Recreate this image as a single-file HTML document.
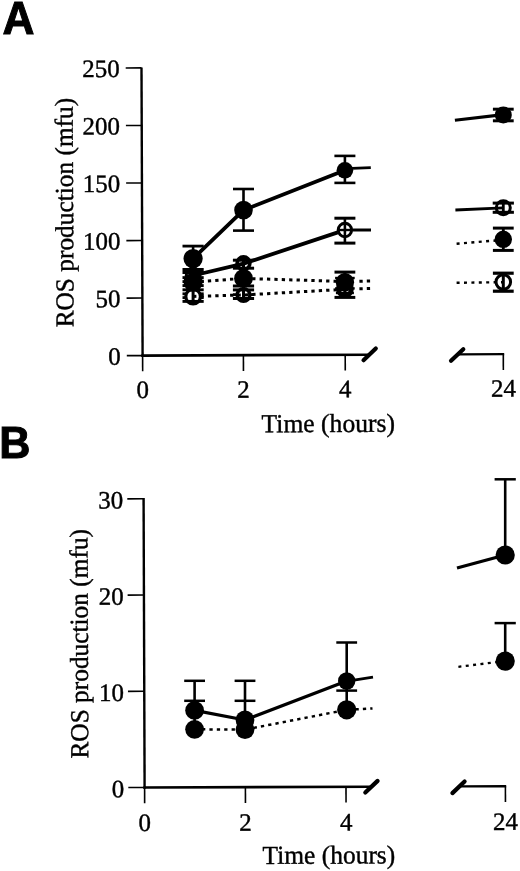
<!DOCTYPE html>
<html><head><meta charset="utf-8"><title>ROS production</title>
<style>html,body{margin:0;padding:0;background:#fff}svg{display:block}</style></head>
<body><svg width="520" height="871" viewBox="0 0 520 871">
<rect width="520" height="871" fill="#fff"/>
<g transform="rotate(-0.22 142.6 355.6)">
<line x1="142.60" y1="67.40" x2="142.60" y2="356.80" stroke="#000" stroke-width="2.4" />
<line x1="141.40" y1="355.60" x2="368.00" y2="355.60" stroke="#000" stroke-width="2.6" />
<line x1="458.00" y1="355.60" x2="504.20" y2="355.60" stroke="#000" stroke-width="2.3" />
<line x1="363.50" y1="361.00" x2="375.80" y2="349.40" stroke="#000" stroke-width="4.2" stroke-linecap="round"/>
<line x1="451.00" y1="362.00" x2="463.30" y2="350.40" stroke="#000" stroke-width="4.2" stroke-linecap="round"/>
<line x1="126.80" y1="355.60" x2="142.60" y2="355.60" stroke="#000" stroke-width="1.6" />
<text transform="translate(120.80,364.50) scale(1.0,1)" font-size="25" text-anchor="end" font-family="Liberation Serif, serif" stroke="#000" stroke-width="0.4" >0</text>
<line x1="126.80" y1="298.06" x2="142.60" y2="298.06" stroke="#000" stroke-width="1.6" />
<text transform="translate(120.80,306.96) scale(1.0,1)" font-size="25" text-anchor="end" font-family="Liberation Serif, serif" stroke="#000" stroke-width="0.4" >50</text>
<line x1="126.80" y1="240.52" x2="142.60" y2="240.52" stroke="#000" stroke-width="1.6" />
<text transform="translate(120.80,249.42) scale(1.0,1)" font-size="25" text-anchor="end" font-family="Liberation Serif, serif" stroke="#000" stroke-width="0.4" >100</text>
<line x1="126.80" y1="182.98" x2="142.60" y2="182.98" stroke="#000" stroke-width="1.6" />
<text transform="translate(120.80,191.88) scale(1.0,1)" font-size="25" text-anchor="end" font-family="Liberation Serif, serif" stroke="#000" stroke-width="0.4" >150</text>
<line x1="126.80" y1="125.44" x2="142.60" y2="125.44" stroke="#000" stroke-width="1.6" />
<text transform="translate(120.80,134.34) scale(1.0,1)" font-size="25" text-anchor="end" font-family="Liberation Serif, serif" stroke="#000" stroke-width="0.4" >200</text>
<line x1="126.80" y1="67.90" x2="142.60" y2="67.90" stroke="#000" stroke-width="1.6" />
<text transform="translate(120.80,76.80) scale(1.0,1)" font-size="25" text-anchor="end" font-family="Liberation Serif, serif" stroke="#000" stroke-width="0.4" >250</text>
<line x1="142.60" y1="355.60" x2="142.60" y2="371.30" stroke="#000" stroke-width="1.6" />
<text transform="translate(142.60,398.00) scale(1.0,1)" font-size="25" text-anchor="middle" font-family="Liberation Serif, serif" stroke="#000" stroke-width="0.4" >0</text>
<line x1="243.40" y1="355.60" x2="243.40" y2="371.30" stroke="#000" stroke-width="1.6" />
<text transform="translate(243.40,398.00) scale(1.0,1)" font-size="25" text-anchor="middle" font-family="Liberation Serif, serif" stroke="#000" stroke-width="0.4" >2</text>
<line x1="345.20" y1="355.60" x2="345.20" y2="371.30" stroke="#000" stroke-width="1.6" />
<text transform="translate(345.20,398.00) scale(1.0,1)" font-size="25" text-anchor="middle" font-family="Liberation Serif, serif" stroke="#000" stroke-width="0.4" >4</text>
<line x1="503.30" y1="355.60" x2="503.30" y2="371.30" stroke="#000" stroke-width="1.6" />
<text transform="translate(503.30,398.00) scale(1.0,1)" font-size="25" text-anchor="middle" font-family="Liberation Serif, serif" stroke="#000" stroke-width="0.4" >24</text>
<text transform="translate(328.00,432.70) scale(0.985,1)" font-size="26" text-anchor="middle" font-family="Liberation Serif, serif" stroke="#000" stroke-width="0.4" >Time (hours)</text>
<text transform="translate(73.65,212.3) rotate(-90) scale(0.976,1)" font-size="26" text-anchor="middle" font-family="Liberation Serif, serif" stroke="#000" stroke-width="0.4">ROS production (mfu)</text>
</g>
<g transform="rotate(-0.2 144.6 787.5)">
<line x1="144.60" y1="498.00" x2="144.60" y2="788.70" stroke="#000" stroke-width="2.4" />
<line x1="143.40" y1="787.50" x2="370.00" y2="787.50" stroke="#000" stroke-width="2.6" />
<line x1="460.00" y1="787.50" x2="506.20" y2="787.50" stroke="#000" stroke-width="2.3" />
<line x1="365.30" y1="793.30" x2="377.60" y2="781.70" stroke="#000" stroke-width="4.2" stroke-linecap="round"/>
<line x1="452.40" y1="794.20" x2="464.60" y2="782.60" stroke="#000" stroke-width="4.2" stroke-linecap="round"/>
<line x1="128.30" y1="787.50" x2="144.60" y2="787.50" stroke="#000" stroke-width="1.6" />
<text transform="translate(124.30,797.10) scale(1.0,1)" font-size="25" text-anchor="end" font-family="Liberation Serif, serif" stroke="#000" stroke-width="0.4" >0</text>
<line x1="128.30" y1="691.27" x2="144.60" y2="691.27" stroke="#000" stroke-width="1.6" />
<text transform="translate(124.30,700.87) scale(1.0,1)" font-size="25" text-anchor="end" font-family="Liberation Serif, serif" stroke="#000" stroke-width="0.4" >10</text>
<line x1="128.30" y1="595.04" x2="144.60" y2="595.04" stroke="#000" stroke-width="1.6" />
<text transform="translate(124.30,604.64) scale(1.0,1)" font-size="25" text-anchor="end" font-family="Liberation Serif, serif" stroke="#000" stroke-width="0.4" >20</text>
<line x1="128.30" y1="498.81" x2="144.60" y2="498.81" stroke="#000" stroke-width="1.6" />
<text transform="translate(124.30,508.41) scale(1.0,1)" font-size="25" text-anchor="end" font-family="Liberation Serif, serif" stroke="#000" stroke-width="0.4" >30</text>
<line x1="144.60" y1="787.50" x2="144.60" y2="803.30" stroke="#000" stroke-width="1.6" />
<text transform="translate(144.60,831.10) scale(1.0,1)" font-size="25" text-anchor="middle" font-family="Liberation Serif, serif" stroke="#000" stroke-width="0.4" >0</text>
<line x1="245.40" y1="787.50" x2="245.40" y2="803.30" stroke="#000" stroke-width="1.6" />
<text transform="translate(245.40,831.10) scale(1.0,1)" font-size="25" text-anchor="middle" font-family="Liberation Serif, serif" stroke="#000" stroke-width="0.4" >2</text>
<line x1="346.00" y1="787.50" x2="346.00" y2="803.30" stroke="#000" stroke-width="1.6" />
<text transform="translate(346.00,831.10) scale(1.0,1)" font-size="25" text-anchor="middle" font-family="Liberation Serif, serif" stroke="#000" stroke-width="0.4" >4</text>
<line x1="505.40" y1="787.50" x2="505.40" y2="803.30" stroke="#000" stroke-width="1.6" />
<text transform="translate(505.40,831.10) scale(1.0,1)" font-size="25" text-anchor="middle" font-family="Liberation Serif, serif" stroke="#000" stroke-width="0.4" >24</text>
<text transform="translate(328.60,864.30) scale(0.98,1)" font-size="26" text-anchor="middle" font-family="Liberation Serif, serif" stroke="#000" stroke-width="0.4" >Time (hours)</text>
<text transform="translate(88.4,643.6) rotate(-90) scale(0.976,1)" font-size="26" text-anchor="middle" font-family="Liberation Serif, serif" stroke="#000" stroke-width="0.4">ROS production (mfu)</text>
</g>
<polyline points="193.10,282.00 243.50,278.40 344.90,281.50" fill="none" stroke="#000" stroke-width="3.0" stroke-linejoin="round" stroke-linecap="butt" stroke-dasharray="3.3 4.1"/>
<polyline points="193.10,296.40 243.50,295.00 344.90,289.30" fill="none" stroke="#000" stroke-width="3.0" stroke-linejoin="round" stroke-linecap="butt" stroke-dasharray="3.3 4.1"/>
<polyline points="359.40,281.30 372.00,281.00" fill="none" stroke="#000" stroke-width="3.0" stroke-linejoin="round" stroke-linecap="butt" stroke-dasharray="3.3 4.1"/>
<polyline points="359.40,288.80 372.00,288.50" fill="none" stroke="#000" stroke-width="3.0" stroke-linejoin="round" stroke-linecap="butt" stroke-dasharray="3.3 4.1"/>
<polyline points="456.60,243.70 503.30,239.90" fill="none" stroke="#000" stroke-width="2.4" stroke-linejoin="round" stroke-linecap="butt" stroke-dasharray="3.0 4.4"/>
<polyline points="456.60,282.80 503.30,282.20" fill="none" stroke="#000" stroke-width="2.4" stroke-linejoin="round" stroke-linecap="butt" stroke-dasharray="3.0 4.4"/>
<polyline points="193.10,258.60 243.50,210.10 344.90,170.30" fill="none" stroke="#000" stroke-width="3.8" stroke-linejoin="round" stroke-linecap="butt" />
<polyline points="193.10,275.50 243.50,263.70 337.78,232.37" fill="none" stroke="#000" stroke-width="3.8" stroke-linejoin="round" stroke-linecap="butt" />
<line x1="352.00" y1="168.30" x2="370.80" y2="167.60" stroke="#000" stroke-width="2.8" />
<line x1="352.50" y1="230.00" x2="371.00" y2="230.00" stroke="#000" stroke-width="3.0" />
<polyline points="454.90,120.30 503.30,114.60" fill="none" stroke="#000" stroke-width="3.1" stroke-linejoin="round" stroke-linecap="butt" />
<polyline points="455.40,210.00 503.30,207.90" fill="none" stroke="#000" stroke-width="2.9" stroke-linejoin="round" stroke-linecap="butt" />
<line x1="193.10" y1="246.10" x2="193.10" y2="270.00" stroke="#000" stroke-width="2.6" />
<line x1="182.50" y1="246.10" x2="203.70" y2="246.10" stroke="#000" stroke-width="2.8" />
<line x1="243.50" y1="189.00" x2="243.50" y2="230.60" stroke="#000" stroke-width="2.6" />
<line x1="233.00" y1="189.00" x2="254.00" y2="189.00" stroke="#000" stroke-width="2.6" />
<line x1="233.00" y1="230.60" x2="254.00" y2="230.60" stroke="#000" stroke-width="2.6" />
<line x1="344.90" y1="155.90" x2="344.90" y2="182.90" stroke="#000" stroke-width="2.6" />
<line x1="334.40" y1="155.90" x2="355.40" y2="155.90" stroke="#000" stroke-width="2.6" />
<line x1="334.40" y1="182.90" x2="355.40" y2="182.90" stroke="#000" stroke-width="2.6" />
<line x1="344.90" y1="218.20" x2="344.90" y2="243.10" stroke="#000" stroke-width="2.6" />
<line x1="334.40" y1="218.20" x2="355.40" y2="218.20" stroke="#000" stroke-width="3.0" />
<line x1="334.40" y1="243.10" x2="355.40" y2="243.10" stroke="#000" stroke-width="3.0" />
<line x1="503.30" y1="109.20" x2="503.30" y2="120.80" stroke="#000" stroke-width="2.8" />
<line x1="492.90" y1="109.20" x2="513.70" y2="109.20" stroke="#000" stroke-width="3" />
<line x1="492.90" y1="120.80" x2="513.70" y2="120.80" stroke="#000" stroke-width="3" />
<line x1="503.30" y1="203.10" x2="503.30" y2="212.30" stroke="#000" stroke-width="2.8" />
<line x1="492.70" y1="203.10" x2="513.90" y2="203.10" stroke="#000" stroke-width="3" />
<line x1="492.70" y1="212.30" x2="513.90" y2="212.30" stroke="#000" stroke-width="3" />
<line x1="503.30" y1="228.10" x2="503.30" y2="250.40" stroke="#000" stroke-width="2.8" />
<line x1="492.90" y1="228.10" x2="513.70" y2="228.10" stroke="#000" stroke-width="3" />
<line x1="492.90" y1="250.40" x2="513.70" y2="250.40" stroke="#000" stroke-width="3" />
<line x1="503.30" y1="273.20" x2="503.30" y2="291.20" stroke="#000" stroke-width="3.0" />
<line x1="492.90" y1="273.20" x2="513.70" y2="273.20" stroke="#000" stroke-width="3.2" />
<line x1="492.90" y1="291.20" x2="513.70" y2="291.20" stroke="#000" stroke-width="3.2" />
<rect x="182.50" y="268.0" width="21.2" height="6.0" fill="#000"/>
<line x1="182.50" y1="277.60" x2="203.70" y2="277.60" stroke="#000" stroke-width="2.9" />
<line x1="182.50" y1="281.60" x2="203.70" y2="281.60" stroke="#000" stroke-width="2.9" />
<line x1="182.50" y1="285.60" x2="203.70" y2="285.60" stroke="#000" stroke-width="2.9" />
<line x1="182.50" y1="289.80" x2="203.70" y2="289.80" stroke="#000" stroke-width="2.9" />
<line x1="182.50" y1="301.40" x2="203.70" y2="301.40" stroke="#000" stroke-width="2.9" />
<line x1="182.50" y1="293.80" x2="186.60" y2="293.80" stroke="#000" stroke-width="2.8" />
<line x1="199.60" y1="293.80" x2="203.70" y2="293.80" stroke="#000" stroke-width="2.8" />
<line x1="182.50" y1="297.60" x2="186.60" y2="297.60" stroke="#000" stroke-width="2.8" />
<line x1="199.60" y1="297.60" x2="203.70" y2="297.60" stroke="#000" stroke-width="2.8" />
<line x1="193.10" y1="268.00" x2="193.10" y2="303.00" stroke="#000" stroke-width="3.0" />
<line x1="232.90" y1="260.20" x2="254.10" y2="260.20" stroke="#000" stroke-width="3.0" />
<line x1="232.90" y1="268.20" x2="254.10" y2="268.20" stroke="#000" stroke-width="3.0" />
<line x1="232.90" y1="286.00" x2="254.10" y2="286.00" stroke="#000" stroke-width="3.0" />
<line x1="232.90" y1="289.90" x2="254.10" y2="289.90" stroke="#000" stroke-width="3.0" />
<line x1="232.90" y1="298.50" x2="254.10" y2="298.50" stroke="#000" stroke-width="3.0" />
<line x1="232.90" y1="294.60" x2="237.00" y2="294.60" stroke="#000" stroke-width="2.8" />
<line x1="250.00" y1="294.60" x2="254.10" y2="294.60" stroke="#000" stroke-width="2.8" />
<line x1="243.50" y1="258.00" x2="243.50" y2="301.00" stroke="#000" stroke-width="3.0" />
<line x1="334.50" y1="272.10" x2="355.30" y2="272.10" stroke="#000" stroke-width="3.0" />
<line x1="334.50" y1="297.40" x2="355.30" y2="297.40" stroke="#000" stroke-width="3.0" />
<line x1="335.10" y1="278.00" x2="354.70" y2="278.00" stroke="#000" stroke-width="2.4" />
<line x1="335.10" y1="288.40" x2="354.70" y2="288.40" stroke="#000" stroke-width="2.4" />
<line x1="335.90" y1="293.00" x2="353.90" y2="293.00" stroke="#000" stroke-width="2.4" />
<line x1="344.90" y1="272.10" x2="344.90" y2="297.40" stroke="#000" stroke-width="3.0" />
<circle cx="193.10" cy="296.60" r="7.3" fill="none" stroke="#000" stroke-width="3.2"/>
<circle cx="243.50" cy="295.00" r="6.4" fill="none" stroke="#000" stroke-width="3.4"/>
<circle cx="344.90" cy="289.20" r="6.4" fill="none" stroke="#000" stroke-width="5.0"/>
<circle cx="193.10" cy="275.50" r="6.9" fill="none" stroke="#000" stroke-width="3.0"/>
<circle cx="243.50" cy="263.30" r="6.4" fill="none" stroke="#000" stroke-width="3.6"/>
<circle cx="193.10" cy="282.20" r="9.5" fill="#000"/>
<circle cx="243.50" cy="278.40" r="9.4" fill="#000"/>
<circle cx="344.90" cy="282.20" r="9.2" fill="#000"/>
<circle cx="193.10" cy="258.60" r="9.6" fill="#000"/>
<circle cx="243.50" cy="210.10" r="9.3" fill="#000"/>
<circle cx="344.90" cy="170.30" r="8.3" fill="#000"/>
<circle cx="344.90" cy="230.00" r="6.7" fill="none" stroke="#000" stroke-width="3.0"/>
<line x1="338.90" y1="230.00" x2="352.90" y2="230.00" stroke="#000" stroke-width="2.4" />
<circle cx="503.30" cy="114.90" r="8.5" fill="#000"/>
<circle cx="503.30" cy="207.70" r="7.0" fill="none" stroke="#000" stroke-width="3.0"/>
<circle cx="503.30" cy="239.30" r="8.7" fill="#000"/>
<circle cx="503.30" cy="282.00" r="7.3" fill="none" stroke="#000" stroke-width="3.0"/>
<polyline points="194.60,729.30 245.00,729.60 346.70,709.80 372.50,708.40" fill="none" stroke="#000" stroke-width="2.5" stroke-linejoin="round" stroke-linecap="butt" stroke-dasharray="3.3 4.1"/>
<polyline points="458.40,666.80 505.20,661.10" fill="none" stroke="#000" stroke-width="2.3" stroke-linejoin="round" stroke-linecap="butt" stroke-dasharray="3.0 4.4"/>
<polyline points="194.60,710.40 245.00,720.00 346.70,681.00" fill="none" stroke="#000" stroke-width="3.3" stroke-linejoin="round" stroke-linecap="butt" />
<line x1="354.00" y1="680.20" x2="373.00" y2="677.10" stroke="#000" stroke-width="2.7" />
<polyline points="457.00,568.00 505.20,555.00" fill="none" stroke="#000" stroke-width="3.3" stroke-linejoin="round" stroke-linecap="butt" />
<line x1="194.60" y1="680.80" x2="194.60" y2="729.00" stroke="#000" stroke-width="2.6" />
<line x1="184.20" y1="680.80" x2="205.00" y2="680.80" stroke="#000" stroke-width="2.5" />
<line x1="184.20" y1="700.80" x2="205.00" y2="700.80" stroke="#000" stroke-width="2.5" />
<line x1="245.00" y1="680.80" x2="245.00" y2="729.00" stroke="#000" stroke-width="2.6" />
<line x1="234.60" y1="680.80" x2="255.40" y2="680.80" stroke="#000" stroke-width="2.5" />
<line x1="234.60" y1="700.80" x2="255.40" y2="700.80" stroke="#000" stroke-width="2.5" />
<line x1="346.70" y1="642.50" x2="346.70" y2="709.00" stroke="#000" stroke-width="2.6" />
<line x1="336.30" y1="642.50" x2="357.10" y2="642.50" stroke="#000" stroke-width="2.5" />
<line x1="336.30" y1="690.60" x2="357.10" y2="690.60" stroke="#000" stroke-width="2.5" />
<line x1="505.20" y1="479.30" x2="505.20" y2="555.00" stroke="#000" stroke-width="2.6" />
<line x1="494.60" y1="479.30" x2="515.80" y2="479.30" stroke="#000" stroke-width="2.5" />
<line x1="505.20" y1="623.10" x2="505.20" y2="661.00" stroke="#000" stroke-width="2.6" />
<line x1="494.60" y1="623.10" x2="515.80" y2="623.10" stroke="#000" stroke-width="2.5" />
<circle cx="194.60" cy="710.40" r="9.4" fill="#000"/>
<circle cx="245.00" cy="720.00" r="9.4" fill="#000"/>
<circle cx="346.70" cy="681.00" r="8.7" fill="#000"/>
<circle cx="505.20" cy="555.00" r="9.6" fill="#000"/>
<circle cx="194.60" cy="729.30" r="9.4" fill="#000"/>
<circle cx="245.00" cy="729.60" r="9.4" fill="#000"/>
<circle cx="346.70" cy="709.80" r="9.6" fill="#000"/>
<circle cx="505.20" cy="661.10" r="9.6" fill="#000"/>
<text transform="translate(2.6,33.5) scale(0.961,0.99)" font-size="46" font-weight="bold" font-family="Liberation Sans, sans-serif" stroke="#000" stroke-width="1" stroke-linejoin="miter">A</text>
<text transform="translate(-0.8,458.3) scale(0.938,0.982)" font-size="46" font-weight="bold" font-family="Liberation Sans, sans-serif" stroke="#000" stroke-width="1" stroke-linejoin="miter">B</text>
</svg></body></html>
